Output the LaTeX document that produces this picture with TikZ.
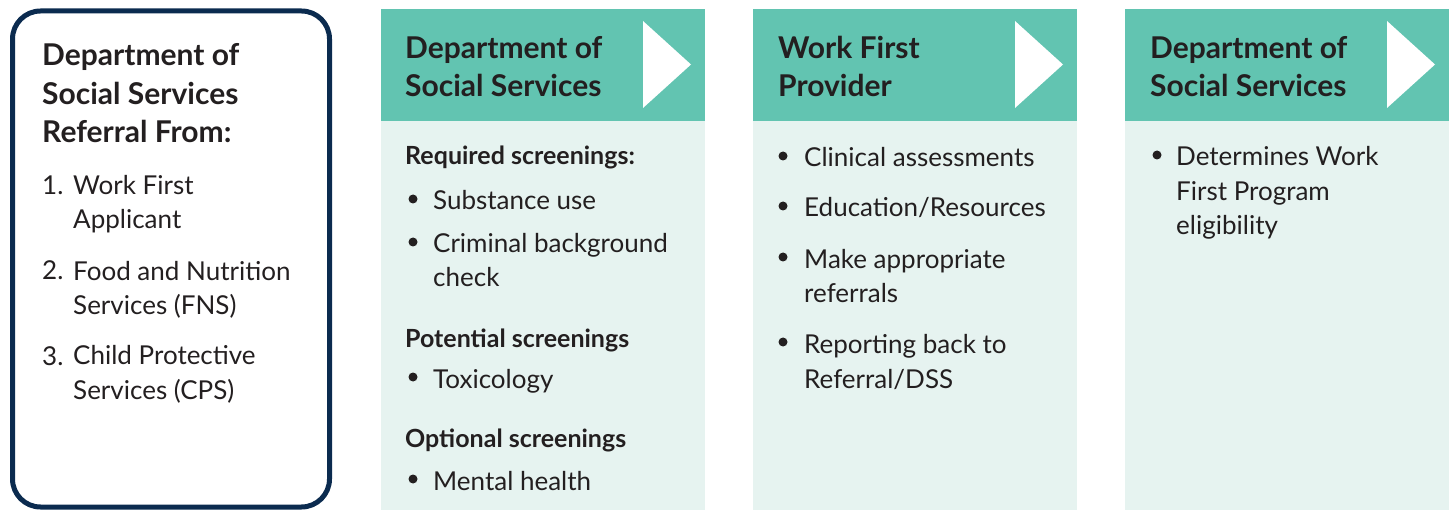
\documentclass[tikz,border=0pt]{standalone}
\usepackage{fontspec}
\setmainfont{Lato}
\definecolor{refnavy}{HTML}{0B2B4F}
\definecolor{hdrteal}{HTML}{62C4B1}
\definecolor{bodymint}{HTML}{E6F3F0}
\definecolor{inkgray}{HTML}{231F20}

\begin{document}
\begin{tikzpicture}[x=1pt, y=-1pt,
  headtxt/.style={anchor=base west, inner sep=0pt, align=left, text=inkgray,
    font=\bfseries\fontsize{30}{38}\selectfont},
  subtxt/.style={anchor=base west, inner sep=0pt, text=inkgray,
    font=\bfseries\fontsize{25}{30}\selectfont},
  bodytxt/.style={anchor=base west, inner sep=0pt, align=left, text=inkgray,
    font=\fontsize{26}{34.5}\selectfont},
  dot/.style={circle, fill=inkgray, inner sep=0pt, minimum size=9pt}]
  \useasboundingbox (0,0) rectangle (1450,510);

  % the three columns
  \foreach \cx in {381, 753, 1125} {
    \fill[bodymint] (\cx,121) rectangle (\cx+324,510);
    \fill[hdrteal] (\cx,9) rectangle (\cx+324,121);
    \fill[white] (\cx+262,21) -- (\cx+310,64.5) -- (\cx+262,108) -- cycle;
  }

  % referral box (multi-line nodes sit on their last baseline)
  \draw[refnavy, line width=5pt, rounded corners=28pt] (12.5,11) rectangle (329.5,507);
  \node[headtxt, font=\bfseries\fontsize{30}{38.5}\selectfont] (RefHead) at (42,143)
    {Department of\\Social Services\\Referral From:};
  \node[bodytxt] (N1) at (42,195) {1.};
  \node[bodytxt] (R1) at (73,229) {Work First\\Applicant};
  \node[bodytxt] (N2) at (42,280) {2.};
  \node[bodytxt] (R2) at (73,315) {Food and Nutrition\\Services (FNS)};
  \node[bodytxt] (N3) at (42,365) {3.};
  \node[bodytxt] (R3) at (73,399) {Child Protective\\Services (CPS)};

  % first DSS step
  \node[headtxt] (DssHead) at (405,97) {Department of\\Social Services};
  \node[subtxt] (Req) at (405,165) {Required screenings:};
  \node[dot] (d1) at (413,199) {};
  \node[bodytxt] (S1) at (433,210) {Substance use};
  \node[dot] (d2) at (413,242) {};
  \node[bodytxt] (S2) at (433,287) {Criminal background\\check};
  \node[subtxt] (Pot) at (405,347) {Potential screenings};
  \node[dot] (d3) at (413,377) {};
  \node[bodytxt] (S3) at (433,388) {Toxicology};
  \node[subtxt] (Opt) at (405,447) {Optional screenings};
  \node[dot] (d4) at (413,479) {};
  \node[bodytxt] (S4) at (433,490) {Mental health};

  % provider step
  \node[headtxt] (WfHead) at (778,97) {Work First\\Provider};
  \node[dot] (p1) at (783,156) {};
  \node[bodytxt] (P1) at (804,167) {Clinical assessments};
  \node[dot] (p2) at (783,206) {};
  \node[bodytxt] (P2) at (804,217) {Education/Resources};
  \node[dot] (p3) at (783,257) {};
  \node[bodytxt] (P3) at (804,303) {Make appropriate\\referrals};
  \node[dot] (p4) at (783,342) {};
  \node[bodytxt] (P4) at (804,388) {Reporting back to\\Referral/DSS};

  % second DSS step
  \node[headtxt] (EligHead) at (1150,97) {Department of\\Social Services};
  \node[dot] (e1) at (1157,155) {};
  \node[bodytxt] (E1) at (1176,235) {Determines Work\\First Program\\eligibility};
\end{tikzpicture}
\end{document}
